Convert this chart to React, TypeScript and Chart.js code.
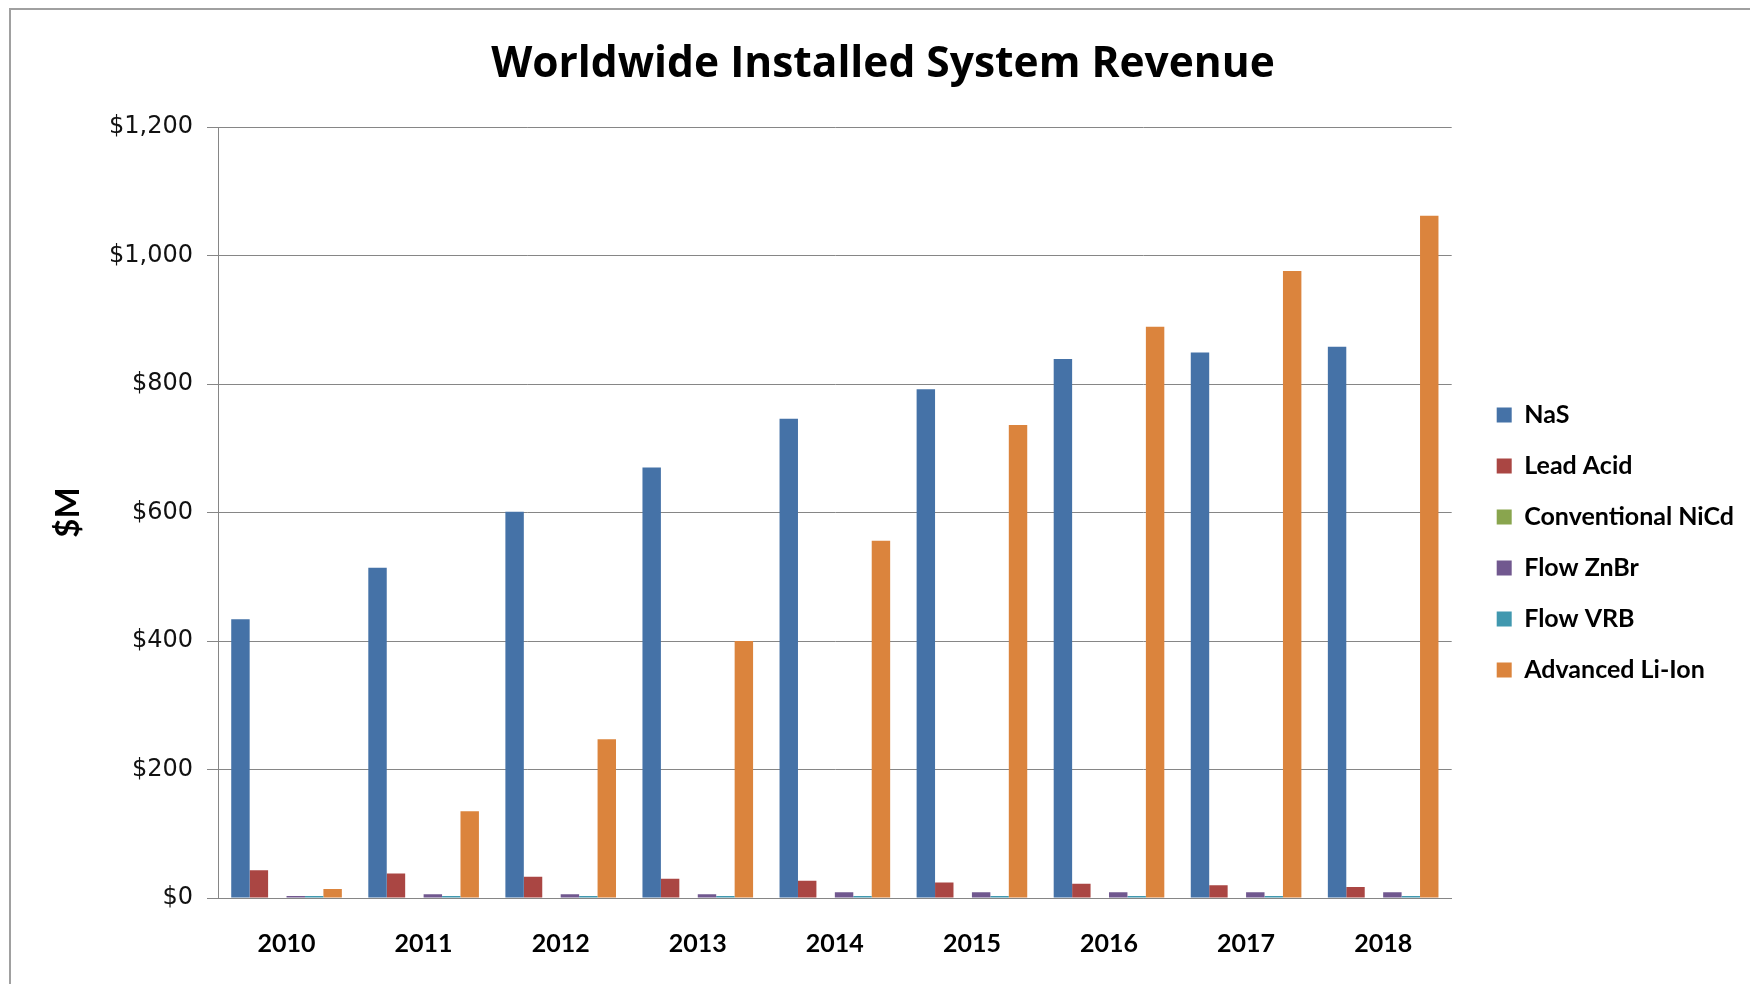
import React, { useEffect, useRef } from "react";
import { Chart, registerables } from "chart.js";

Chart.register(...registerables);

const categories = ["2010", "2011", "2012", "2013", "2014", "2015", "2016", "2017", "2018"];
const seriesNames = ["NaS", "Lead Acid", "Conventional NiCd", "Flow ZnBr", "Flow VRB", "Advanced Li-Ion"];
const nasValues = [434, 514, 601, 670, 746, 792, 839, 849, 858];
const leadAcidValues = [43, 38, 33, 30, 27, 24, 22, 20, 17];
const nicdValues = [0, 0, 0, 0, 0, 0, 0, 0, 0];
const znbrValues = [3, 6, 6, 6, 9, 9, 9, 9, 9];
const vrbValues = [3, 3, 3, 3, 3, 3, 3, 3, 3];
const liIonValues = [14, 135, 247, 400, 556, 736, 889, 976, 1062];
const seriesColors = ["#4572A7", "#AA4643", "#89A54E", "#71588F", "#4198AF", "#DB843D"];
const yTickMax = 1200;
const yTickStep = 200;

const FONT = "Lato, 'Open Sans', sans-serif";
const WIDE_FONT = "'Open Sans', Lato, sans-serif";
const TICK_FONT = "'DejaVu Sans', 'Open Sans', sans-serif";

export default function App() {
  const canvasRef = useRef<HTMLCanvasElement | null>(null);

  useEffect(() => {
    const canvas = canvasRef.current;
    if (!canvas) return;
    const values = [nasValues, leadAcidValues, nicdValues, znbrValues, vrbValues, liIonValues];
    const chart = new Chart(canvas, {
      type: "bar",
      data: {
        labels: categories,
        datasets: seriesNames.map((name, i) => ({
          label: name,
          data: values[i],
          backgroundColor: seriesColors[i],
          borderWidth: 0,
          categoryPercentage: 0.807,
          barPercentage: 1.0,
        })),
      },
      options: {
        animation: false,
        responsive: false,
        maintainAspectRatio: false,
        layout: { padding: { top: 0, left: 22, right: 6, bottom: 28 } },
        plugins: {
          title: {
            display: true,
            text: "Worldwide Installed System Revenue",
            color: "#000",
            font: { family: WIDE_FONT, size: 42.5, weight: "bold" },
            padding: { top: 39, bottom: 37 },
          },
          legend: {
            position: "right",
            align: "center",
            fullSize: false,
            title: {
              display: true,
              text: " ",
              font: { family: FONT, size: 25 },
              padding: { top: 30, bottom: 0 },
            },
            labels: {
              boxWidth: 15,
              boxHeight: 15,
              padding: 26,
              color: "#000",
              font: { family: FONT, size: 25, weight: "bold" },
            },
          },
          tooltip: { enabled: false },
        },
        scales: {
          x: {
            grid: { display: false, drawTicks: false },
            border: { display: true, color: "#868686", width: 1 },
            ticks: {
              color: "#000",
              font: { family: FONT, size: 25, weight: "bold" },
              padding: 31,
              maxRotation: 0,
            },
            afterFit: (s: any) => {
              s.height = 58;
            },
          },
          y: {
            min: 0,
            max: yTickMax,
            ticks: {
              stepSize: yTickStep,
              color: "#111",
              font: { family: TICK_FONT, size: 24 },
              padding: 14,
              callback: (v: any) => "$" + Number(v).toLocaleString("en-US"),
            },
            grid: { color: "#868686", lineWidth: 1, tickLength: 11, drawTicks: true },
            border: { display: true, color: "#868686", width: 1 },
            title: {
              display: true,
              text: "$M",
              color: "#000",
              font: { family: FONT, size: 33, weight: "bold" },
              padding: { top: 27, bottom: 0 },
            },
            afterFit: (s: any) => {
              s.width = 196;
            },
          },
          gap: {
            type: "linear",
            position: "right",
            display: true,
            grid: { display: false },
            ticks: { display: false },
            border: { display: false },
            afterFit: (s: any) => {
              s.width = 19;
            },
          },
        },
      } as any,
    });
    return () => chart.destroy();
  }, []);

  return (
    <div style={{ position: "absolute", left: 0, top: 0, width: 1750, height: 984, background: "#fff", overflow: "hidden" }}>
      <canvas ref={canvasRef} width={1750} height={984} style={{ position: "absolute", left: 0, top: 0, width: 1750, height: 984 }} />
      <div
        style={{
          position: "absolute",
          left: 9,
          top: 8,
          width: 1750,
          height: 984,
          borderTop: "2px solid #a0a0a0",
          borderLeft: "2px solid #a0a0a0",
          pointerEvents: "none",
        }}
      />
    </div>
  );
}
